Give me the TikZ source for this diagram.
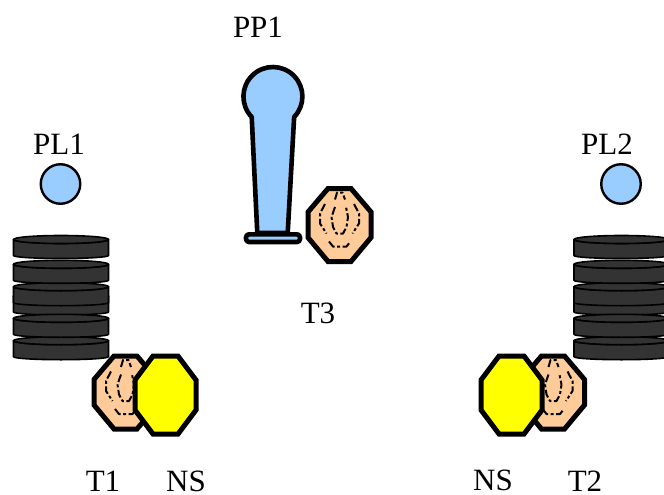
\documentclass[tikz,border=0pt]{standalone}
\usepackage{fontspec}
\setmainfont{Liberation Serif}
\definecolor{ballblue}{HTML}{99CCFF}
\definecolor{peach}{HTML}{FFCC99}
\definecolor{disk}{HTML}{333333}
\definecolor{puryellow}{RGB}{255,255,0}
\tikzset{
  lab/.style={inner sep=0pt,font=\fontsize{31}{33}\selectfont},
  part/.style={draw=black,line width=4.6pt,line join=round,fill=ballblue},
  diskpart/.style={draw=black,line width=1.6pt,fill=disk,line join=round},
  oct/.style={draw=black,line width=5pt,line join=miter},
  inner/.style={draw=black,line width=2pt,dash pattern=on 8pt off 2.5pt on 3pt off 2.5pt,line join=round},
  walnut/.pic={
    \draw[oct,fill=peach] (-11.5,-36.5)--(11.5,-36.5)--(31.5,-13)--(31.5,12.5)--(11.5,36.5)--(-11.5,36.5)--(-31.5,12.5)--(-31.5,-13)--cycle;
    \draw[inner] (-4.5,-25.5)--(-2.5,-32.5)--(3,-32.5)--(5.5,-25.5);
    \draw[inner] (-14.5,-21)--(-19.5,-11.5)--(-19.5,-1.5)--(-13,8.5);
    \draw[inner] (14.5,-21)--(19.5,-11.5)--(19.5,-1.5)--(13,8.5);
    \draw[inner] (-4.5,-18)--(-8,-8)--(-6.5,2)--(-3,8.5)--(3.5,8.5)--(7,2)--(8.5,-8)--(6.5,-18);
    \draw[inner] (-10.5,16.5)--(-6.5,21.5)--(7,21.5)--(11,16.5);
  },
  yoct/.pic={
    \draw[oct,fill=puryellow] (-12.5,-39)--(12.5,-39)--(30.5,-15)--(30.5,15)--(12.5,39)--(-12.5,39)--(-30.5,15)--(-30.5,-15)--cycle;
  },
  onedisk/.pic={
    \draw[diskpart] (-47.5,0)--(-47.5,16) arc[start angle=180,end angle=0,x radius=47.5,y radius=3]--(47.5,0) arc[start angle=0,end angle=180,x radius=47.5,y radius=4]--cycle;
    \draw[diskpart] (0,0) ellipse[x radius=47.5,y radius=4];
  },
  diskstack/.pic={
    \foreach \yy in {296,340.7,318.3,286.7,264.3,239.5}{
      \pic at (0,\yy) {onedisk};
    }
  }
}
\begin{document}
\begin{tikzpicture}[x=1pt,y=-1pt]
\useasboundingbox (0,0) rectangle (664,495);
\begin{scope}
\clip (0,0) rectangle (664,495);
\pic at (61,0) {diskstack};
\pic at (621.5,0) {diskstack};
\end{scope}
% pestle
\draw[part] (257.3,233)--(251.7,117) arc[start angle=136,end angle=404,radius=29.5]--(287.7,233)--cycle;
\draw[part,rounded corners=3pt] (246,234.3) rectangle (300,242);
\node[circle,draw=black,line width=2.4pt,fill=ballblue,minimum size=39.5pt,inner sep=0pt] (pl1ball) at (60.5,184) {};
\node[circle,draw=black,line width=2.4pt,fill=ballblue,minimum size=39.5pt,inner sep=0pt] (pl2ball) at (621,184) {};
% tiles
\pic at (339.5,225) {walnut};
\pic at (125.5,392.5) {walnut};
\pic at (553,392.5) {walnut};
\pic at (165.5,395) {yoct};
\pic at (511.5,395) {yoct};
% labels
\node[lab] (pp1) at (258,27) {PP1};
\node[lab] (pl1) at (59,144) {PL1};
\node[lab] (pl2) at (607,144) {PL2};
\node[lab] (t3) at (318,313) {T3};
\node[lab] (t1) at (103,481) {T1};
\node[lab] (ns1) at (186,481) {NS};
\node[lab] (ns2) at (493,480) {NS};
\node[lab] (t2) at (585,481) {T2};
\end{tikzpicture}
\end{document}
